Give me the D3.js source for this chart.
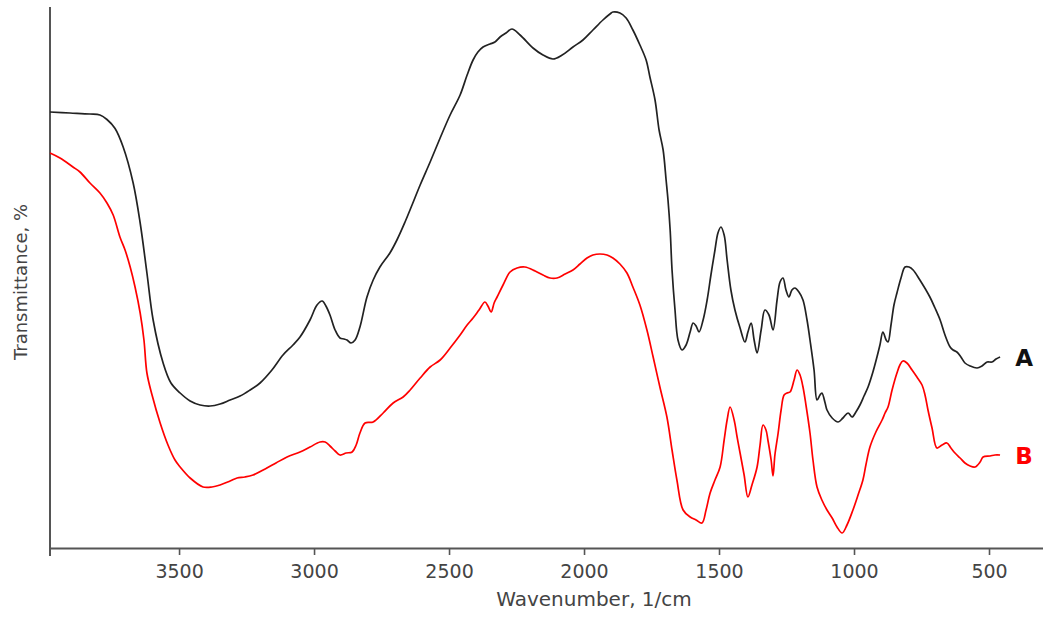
<!DOCTYPE html>
<html>
<head>
<meta charset="utf-8">
<script src="https://cdn.jsdelivr.net/npm/d3@7"></script>
<style>
  html, body { margin: 0; padding: 0; background: #fff; }
  svg { display: block; }
  text { font-family: "DejaVu Sans", Verdana, sans-serif; }
</style>
</head>
<body>
<svg id="chart" width="1043" height="617"></svg>
<script>
// ---- Data ----
const xTicks = [3500, 3000, 2500, 2000, 1500, 1000, 500];
const xTitle = "Wavenumber, 1/cm";
const yTitle = "Transmittance, %";
const seriesNames = ["A", "B"];

// Sample A (black): wavenumber (1/cm)
const waveA = [3978,3904,3830,3793,3767,3737,3707,3670,3644,3619,3596,3559,3530,3496,3459,3422,3385,3348,3311,3274,3237,3200,3156,3115,3078,3052,3015,2989,2970,2956,2941,2922,2904,2889,2878,2863,2848,2830,2804,2781,2756,2719,2693,2663,2637,2607,2570,2533,2496,2459,2433,2411,2393,2374,2348,2330,2311,2289,2267,2237,2189,2152,2115,2081,2041,2004,1967,1930,1904,1893,1867,1844,1819,1793,1770,1756,1737,1722,1707,1696,1689,1681,1674,1663,1652,1637,1622,1607,1596,1585,1574,1559,1544,1530,1515,1504,1493,1481,1470,1456,1441,1422,1404,1393,1381,1370,1359,1344,1330,1315,1300,1285,1274,1263,1252,1241,1230,1219,1204,1189,1174,1163,1148,1137,1126,1119,1107,1100,1081,1059,1041,1022,1007,993,978,963,948,930,915,904,893,881,874,863,852,841,826,811,796,781,756,719,700,681,663,644,633,619,604,589,570,544,526,507,489,474,459];
// Sample A: transmittance (arbitrary %)
const transA = [87.2,87.0,86.8,86.6,85.7,83.9,80.2,73.0,65.0,55.0,45.6,37.0,33.0,31.0,29.4,28.6,28.4,28.8,29.6,30.4,31.6,33.0,35.6,38.6,40.6,42.2,45.6,48.6,49.4,48.4,46.6,43.6,42.0,41.8,41.6,41.0,41.6,44.2,50.2,53.6,56.2,59.0,61.6,65.2,68.6,72.6,77.2,82.0,86.6,90.6,94.6,97.6,99.2,100.2,100.8,101.2,102.2,103.0,103.8,102.6,100.0,98.6,97.8,98.6,100.2,101.6,103.6,105.6,106.8,107.2,107.0,106.0,103.6,100.6,97.6,94.2,89.6,83.6,79.6,73.6,69.6,63.6,55.6,47.6,41.6,39.6,40.6,43.2,45.0,44.4,43.2,45.6,49.6,54.6,59.6,63.0,64.2,62.6,57.6,51.6,47.6,44.0,41.2,43.2,45.0,41.6,39.0,43.6,47.6,46.6,43.6,49.6,53.2,54.0,51.6,50.2,51.6,52.0,51.2,49.6,45.6,41.6,35.6,29.6,30.6,31.0,29.0,27.6,26.0,25.2,26.0,27.0,26.2,27.2,28.6,30.4,32.2,35.2,38.2,40.6,43.2,41.6,41.2,44.6,48.6,51.0,54.0,56.2,56.2,55.6,53.6,50.2,48.0,45.6,42.6,40.2,39.6,39.2,38.2,37.0,36.4,36.0,36.4,37.2,37.2,37.8,38.2];

// Sample B (red): wavenumber (1/cm)
const waveB = [3978,3941,3893,3867,3830,3793,3767,3744,3719,3700,3681,3663,3644,3630,3619,3600,3570,3541,3515,3496,3459,3411,3378,3348,3311,3285,3256,3226,3181,3141,3100,3052,3015,2978,2959,2941,2922,2904,2881,2859,2844,2830,2811,2781,2744,2707,2670,2644,2607,2570,2533,2496,2459,2433,2411,2389,2367,2356,2344,2333,2322,2300,2274,2248,2219,2181,2152,2126,2100,2070,2041,2015,1989,1967,1941,1915,1893,1867,1841,1819,1793,1767,1744,1719,1693,1674,1656,1633,1607,1585,1563,1548,1533,1515,1496,1481,1470,1459,1444,1433,1422,1407,1393,1378,1359,1348,1337,1326,1319,1307,1300,1293,1281,1270,1259,1248,1237,1222,1211,1200,1189,1178,1163,1152,1137,1119,1100,1081,1063,1044,1026,1004,985,967,956,941,919,896,885,874,859,841,830,819,804,785,767,748,737,726,711,693,674,656,641,626,607,589,570,552,533,522,496,478,459];
// Sample B: transmittance (arbitrary %)
const transB = [79.0,78.0,76.2,75.2,73.0,71.0,69.0,66.6,62.2,59.6,56.2,52.2,47.0,41.6,35.0,30.6,25.0,20.6,17.6,16.2,14.0,12.2,12.2,12.6,13.4,14.0,14.2,14.6,15.8,17.0,18.2,19.2,20.2,21.2,21.2,20.4,19.4,18.6,19.0,19.2,20.6,23.0,25.0,25.2,27.0,29.0,30.2,31.6,34.0,36.2,37.6,40.0,42.6,44.6,46.0,47.6,49.2,48.4,47.2,49.0,50.2,52.6,55.2,56.0,56.2,55.4,54.6,54.0,54.0,54.8,55.6,56.8,58.0,58.6,58.8,58.6,58.0,56.8,55.0,52.2,48.6,43.6,38.2,32.2,26.2,19.6,13.6,7.6,6.2,5.6,5.0,7.6,11.0,13.6,16.2,21.6,25.6,28.2,25.6,22.2,19.0,14.6,10.2,12.6,16.2,20.6,24.6,23.6,21.6,17.6,14.4,18.6,23.0,27.6,30.6,31.0,31.2,33.6,35.6,34.6,32.2,28.6,23.0,17.6,12.2,9.6,7.6,6.0,4.2,3.0,4.6,7.6,10.6,13.6,16.6,20.2,23.2,25.6,27.0,28.2,31.6,35.0,36.6,37.4,37.0,35.6,34.2,32.6,30.6,27.6,24.0,20.0,20.6,21.0,20.0,19.0,18.0,17.0,16.4,16.2,17.2,18.2,18.4,18.6,18.6];

const colors = ["#222222", "#ff0000"];

// ---- Layout ----
const svg = d3.select("#chart");
const mLeft = 50, mRight = 1043, mTop = 8, mBottom = 548;

const x = d3.scaleLinear().domain([3978, 300]).range([mLeft, mRight]);
const y = d3.scaleLinear().domain([0, 108]).range([mBottom, mTop]);

const line = d3.line()
  .x(d => x(d[0])).y(d => y(d[1]))
  .curve(d3.curveCatmullRom.alpha(0.5));

const seriesA = d3.zip(waveA, transA);
const seriesB = d3.zip(waveB, transB);

// x axis
const xAxis = d3.axisBottom(x).tickValues(xTicks).tickSize(7).tickSizeOuter(0).tickFormat(d3.format("d"));
const gx = svg.append("g").attr("transform", `translate(0,${mBottom})`).call(xAxis);
gx.select(".domain").attr("stroke", "#555").attr("stroke-width", 2);
gx.selectAll(".tick line").attr("stroke", "#555").attr("stroke-width", 1.6);
gx.selectAll(".tick text")
  .attr("fill", "#444").attr("font-size", 19).attr("dy", null).attr("y", 30)
  .attr("font-family", "'DejaVu Sans', Verdana, sans-serif");

// y axis (no ticks)
svg.append("line")
  .attr("x1", mLeft).attr("x2", mLeft)
  .attr("y1", mTop - 1).attr("y2", mBottom + 8)
  .attr("stroke", "#555").attr("stroke-width", 2);

// curves
[seriesA, seriesB].forEach((s, i) => {
  svg.append("path").datum(s)
    .attr("fill", "none")
    .attr("stroke", colors[i])
    .attr("stroke-width", 1.7)
    .attr("stroke-linejoin", "round")
    .attr("d", line);
});

// series labels at right end
[seriesA, seriesB].forEach((s, i) => {
  const last = s[s.length - 1];
  svg.append("text")
    .attr("x", x(last[0]) + 24)
    .attr("y", y(last[1]) + 9)
    .attr("text-anchor", "middle")
    .attr("font-size", 23)
    .attr("font-weight", "bold")
    .attr("fill", i === 0 ? "#111" : "#ff0000")
    .text(seriesNames[i]);
});

// axis titles
svg.append("text")
  .attr("x", 594).attr("y", 606)
  .attr("text-anchor", "middle")
  .attr("font-size", 20)
  .attr("fill", "#444")
  .text(xTitle);

svg.append("text")
  .attr("transform", "translate(27,282) rotate(-90)")
  .attr("text-anchor", "middle")
  .attr("font-size", 18)
  .attr("fill", "#444")
  .text(yTitle);
</script>
</body>
</html>
